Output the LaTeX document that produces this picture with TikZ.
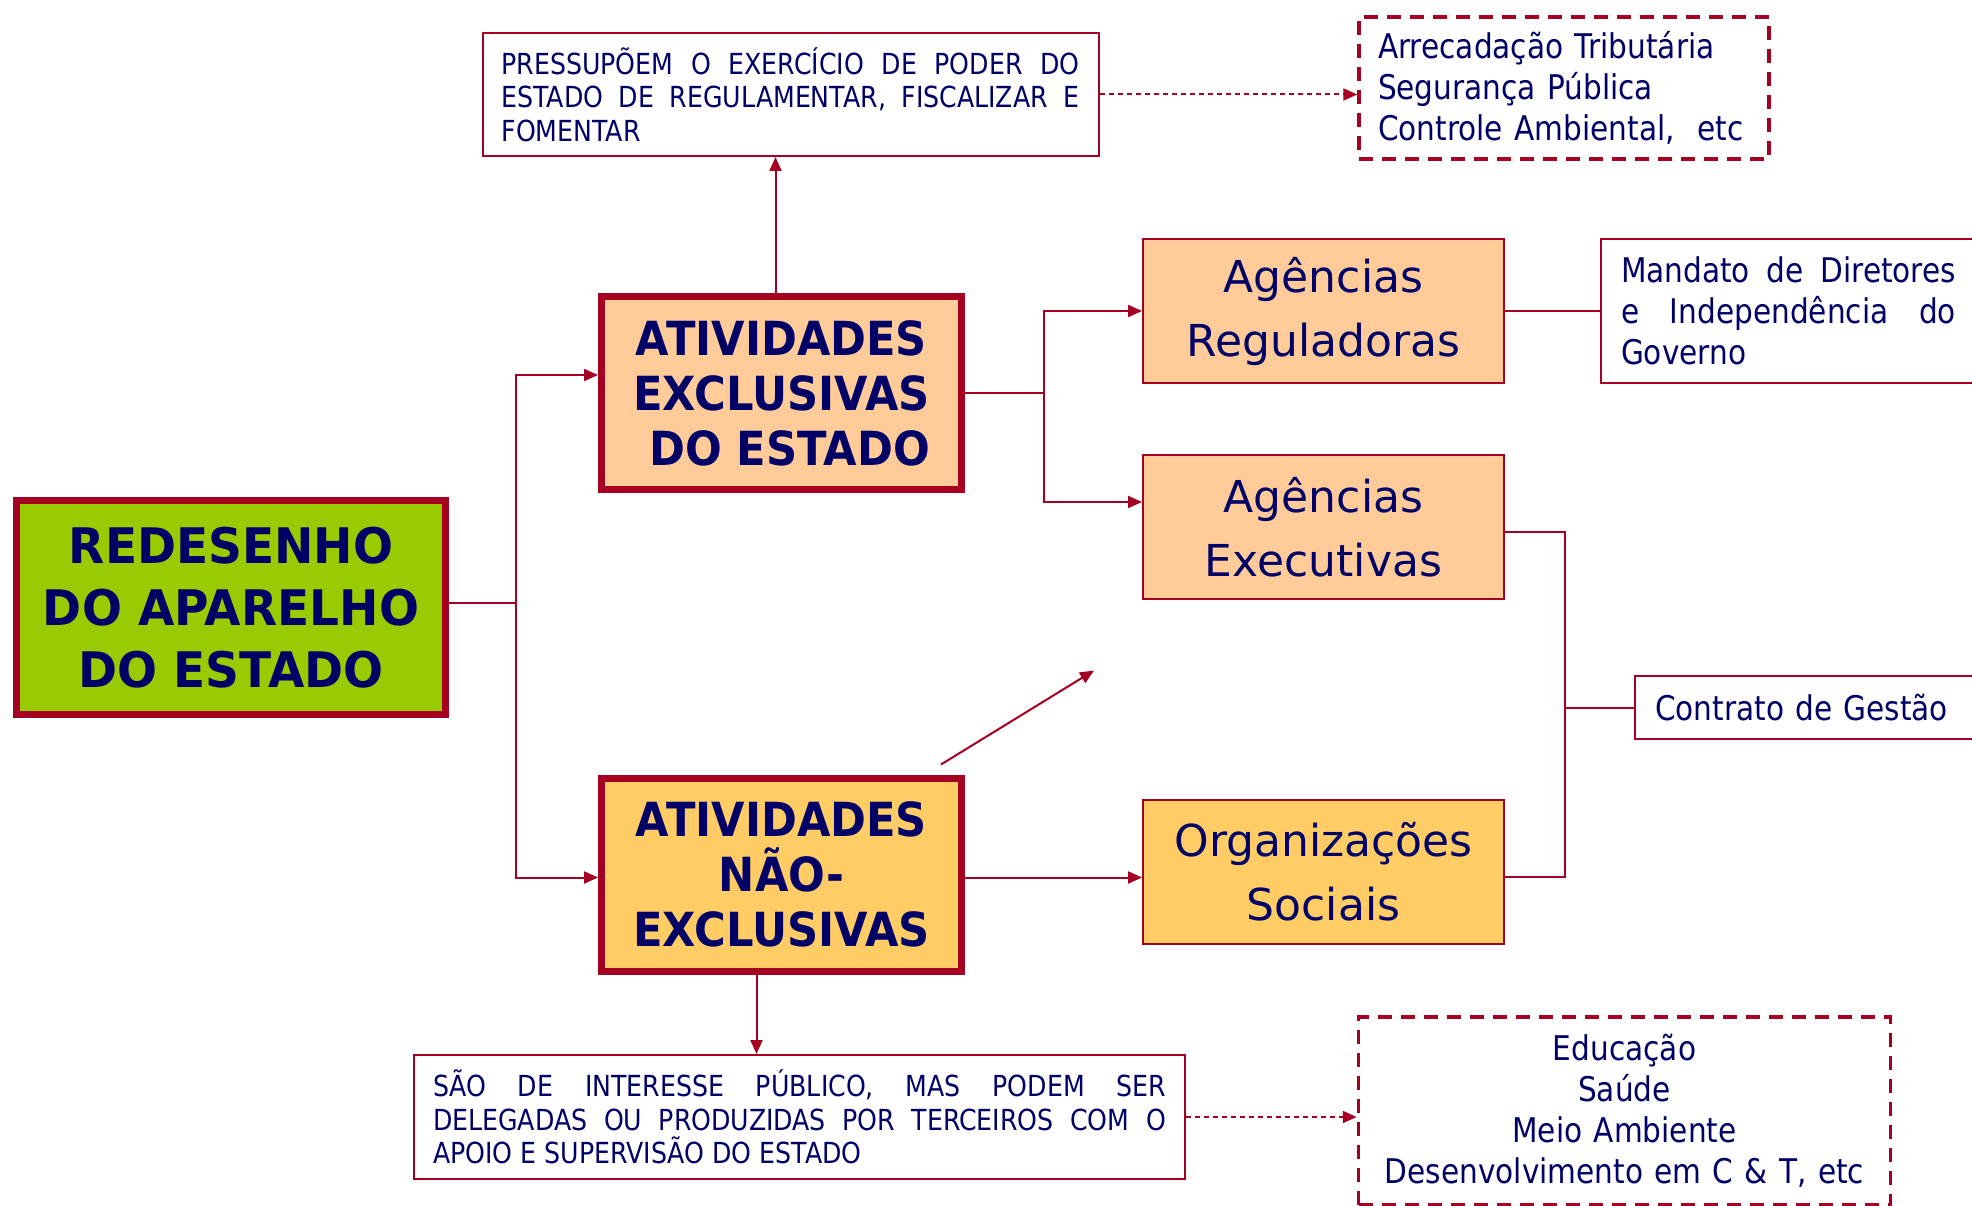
\documentclass[tikz,border=0pt]{standalone}
\usepackage{fontspec}
\usepackage{tikz}
\usetikzlibrary{positioning,arrows.meta}

\definecolor{vinho}{HTML}{A50021}
\definecolor{azul}{HTML}{000066}
\definecolor{verde}{HTML}{99CC00}
\definecolor{pessego}{HTML}{FFCC99}
\definecolor{laranja}{HTML}{FFCC66}

\newfontfamily\titlefont[FakeStretch=0.92]{DejaVu Sans}
\newfontfamily\redesfont[FakeStretch=0.96]{DejaVu Sans}
\newfontfamily\agfont{DejaVu Sans}
\newfontfamily\notefont[FakeStretch=0.87]{DejaVu Sans}
\tolerance=10000
\hbadness=10000

\tikzset{
  titulo/.style={draw=vinho, line width=7pt, text=azul, align=center, inner sep=0pt},
  agencia/.style={draw=vinho, line width=2pt, text=azul, align=center,
    minimum width=361pt, minimum height=144pt, font=\agfont\fontsize{44}{64}\selectfont},
  nota/.style={draw=vinho, line width=2pt, fill=white, text=azul, inner xsep=19pt, inner ysep=0pt,
    font=\notefont\fontsize{34}{41}\selectfont},
  caixa/.style={nota, align=justify, font=\notefont\fontsize{29}{33.5}\selectfont},
  exemplo/.style={nota, line width=3.5pt, dash pattern=on 14pt off 9pt},
  linha/.style={draw=vinho, line width=2pt},
  seta/.style={linha, ->, >={Triangle[length=14pt,width=12pt]}},
  pontilhada/.style={seta, dash pattern=on 5pt off 4pt},
}

\begin{document}
\begin{tikzpicture}[on grid]
   \useasboundingbox (0,0) rectangle (1972pt,-1206pt);
   % main boxes
   \node[titulo, fill=verde, minimum width=429pt, minimum height=214pt,
     font=\redesfont\bfseries\fontsize{49}{62}\selectfont] (redes) at (231pt,-607.5pt)
     {REDESENHO\\DO APARELHO\\DO ESTADO};
   \node[titulo, fill=pessego, minimum width=360pt, minimum height=193pt,
     font=\titlefont\bfseries\fontsize{47}{55}\selectfont] (exclus) [above right=214.5pt and 550.5pt of redes]
     {ATIVIDADES\\EXCLUSIVAS\\\hspace*{16pt}DO ESTADO};
   \node[titulo, fill=laranja, minimum width=360pt, minimum height=193pt,
     font=\titlefont\bfseries\fontsize{47}{55}\selectfont] (naoex) [below=481.5pt of exclus]
     {ATIVIDADES\\NÃO-\\EXCLUSIVAS};
   % agencies
   \node[agencia, fill=pessego] (reg) [above right=82pt and 542pt of exclus] {Agências\\Reguladoras};
   \node[agencia, fill=pessego] (exe) [below=216pt of reg] {Agências\\Executivas};
   \node[agencia, fill=laranja] (os) [below=345pt of exe] {Organizações\\Sociais};
   % notes
   \node[caixa, text width=578pt, minimum height=123pt] (poder) [above right=298.5pt and 9pt of exclus]
     {PRESSUPÕEM O EXERCÍCIO DE PODER DO\linebreak ESTADO DE REGULAMENTAR, FISCALIZAR E\linebreak FOMENTAR};
   \node[exemplo, text width=372pt, align=left, minimum height=142pt] (ex1) [above right=6.5pt and 773.5pt of poder]
     {Arrecadação Tributária\\Segurança Pública\\Controle Ambiental,~ etc};
   \node[nota, text width=335pt, inner xsep=20pt, align=justify, minimum height=144pt] (mand) [right=465pt of reg]
     {Mandato de Diretores\linebreak e Independência do\linebreak Governo};
   \node[nota, text width=320pt, inner xsep=20pt, align=left, minimum height=63pt] (contr) [below right=180.5pt and 491.5pt of exe]
     {Contrato de Gestão};
   \node[caixa, text width=733pt, minimum height=124pt] (sao) [below right=242.5pt and 18pt of naoex]
     {SÃO DE INTERESSE PÚBLICO, MAS PODEM SER\linebreak DELEGADAS OU PRODUZIDAS POR TERCEIROS COM O\linebreak APOIO E SUPERVISÃO DO ESTADO};
   \node[exemplo, text width=494pt, align=center, minimum height=188pt] (ex2) [above right=6pt and 825pt of sao]
     {Educação\\Saúde\\Meio Ambiente\\Desenvolvimento em C \& T, etc};
   % connectors
   \coordinate[above right=5pt and 67pt of redes.east] (tronco);
   \draw[linha] ([yshift=5pt]redes.east) -- (tronco);
   \draw[seta] (tronco) |- ([yshift=18pt]exclus.west);
   \draw[seta] (tronco) |- ([yshift=-3pt]naoex.west);
   \draw[seta] ([xshift=-6pt]exclus.north) -- ([xshift=-6pt]exclus.north |- poder.south);
   \coordinate[right=79pt of exclus.east] (ramo);
   \draw[linha] (exclus.east) -- (ramo);
   \draw[seta] (ramo) |- (reg.west);
   \draw[seta] (ramo) |- ([yshift=25pt]exe.west);
   \draw[linha] (reg.east) -- (mand.west);
   \coordinate[below right=5pt and 60pt of exe.east] (gestao);
   \draw[linha] ([yshift=-5pt]exe.east) -- (gestao) |- ([yshift=-5pt]os.east);
   \draw[linha] (gestao |- contr.west) -- (contr.west);
   \draw[seta] ([yshift=-3pt]naoex.east) -- ([yshift=-3pt]naoex.east -| os.west);
   \coordinate[above left=10pt and 24pt of naoex.north east] (d1);
   \coordinate[above right=94pt and 153pt of d1] (d2);
   \draw[seta] (d1) -- (d2);
   \draw[seta] ([xshift=-25pt]naoex.south) -- ([xshift=-25pt]naoex.south |- sao.north);
   \draw[pontilhada] (poder.east) -- (poder.east -| ex1.west);
   \draw[pontilhada] (sao.east) -- (sao.east -| ex2.west);
\end{tikzpicture}
\end{document}
